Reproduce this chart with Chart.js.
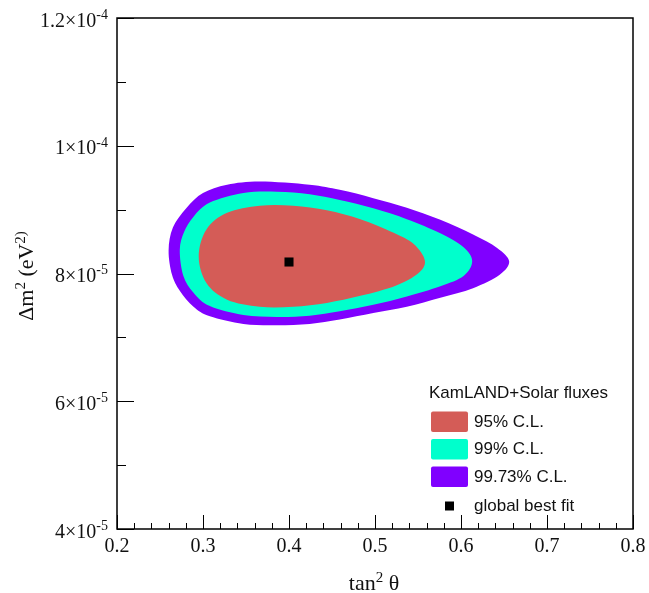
<!DOCTYPE html>
<html>
<head>
<meta charset="utf-8">
<script src="https://cdn.jsdelivr.net/npm/chart.js@4.4.0/dist/chart.umd.min.js"></script>
<style>
  html, body { margin: 0; padding: 0; background: #fff; }
</style>
</head>
<body>
<canvas id="clChart" width="649" height="593"></canvas>
<script>
var seriesNames = ['95% C.L.', '99% C.L.', '99.73% C.L.', 'global best fit'];
var seriesColors = ['#d45c57', '#00ffcc', '#8000ff', '#000000'];
var legendTitle = 'KamLAND+Solar fluxes';

// contour outlines: x = tan^2 theta, y = delta m^2 in units of 1e-5 eV^2
var cl95X = [0.558, 0.545, 0.521, 0.483, 0.444, 0.405, 0.366, 0.328, 0.304, 0.295, 0.304, 0.328, 0.366, 0.405, 0.444, 0.483, 0.524, 0.550];
var cl95Y = [8.20, 8.46, 8.64, 8.85, 8.99, 9.06, 9.06, 8.95, 8.69, 8.27, 7.85, 7.59, 7.48, 7.48, 7.54, 7.65, 7.81, 8.00];

var cl99X = [0.613, 0.603, 0.576, 0.537, 0.498, 0.459, 0.424, 0.386, 0.347, 0.308, 0.289, 0.278, 0.273, 0.277, 0.289, 0.308, 0.347, 0.386, 0.424, 0.459, 0.498, 0.537, 0.576, 0.603];
var cl99Y = [8.19, 8.41, 8.63, 8.85, 9.02, 9.15, 9.24, 9.28, 9.26, 9.11, 8.89, 8.65, 8.37, 7.97, 7.70, 7.49, 7.35, 7.32, 7.34, 7.41, 7.51, 7.64, 7.80, 7.96];

var cl9973X = [0.656, 0.642, 0.614, 0.576, 0.537, 0.498, 0.459, 0.424, 0.366, 0.328, 0.300, 0.281, 0.265, 0.260, 0.264, 0.273, 0.289, 0.308, 0.347, 0.386, 0.424, 0.459, 0.498, 0.537, 0.576, 0.614, 0.645];
var cl9973Y = [8.19, 8.40, 8.61, 8.84, 9.03, 9.18, 9.31, 9.39, 9.44, 9.39, 9.26, 9.03, 8.72, 8.36, 7.98, 7.73, 7.48, 7.33, 7.21, 7.19, 7.21, 7.28, 7.38, 7.48, 7.62, 7.77, 7.98];

var bestFitX = [0.400];
var bestFitY = [8.18];

var xTickValues = [0.2, 0.3, 0.4, 0.5, 0.6, 0.7, 0.8];
var xTickLabels = ['0.2', '0.3', '0.4', '0.5', '0.6', '0.7', '0.8'];
var yTickValues = [4, 6, 8, 10, 12];
var yTickLabels = ['4×10^-5', '6×10^-5', '8×10^-5', '1×10^-4', '1.2×10^-4'];

function toPoints(xs, ys) {
    return xs.map(function(x, i) { return {x: x, y: ys[i]}; });
}

function contourSet(label, xs, ys, color, order) {
    return {
        label: label,
        data: toPoints(xs, ys),
        showLine: false,
        pointRadius: 0,
        backgroundColor: color,
        borderColor: color,
        contour: true,
        order: order
    };
}

var serif = '"Liberation Serif", "DejaVu Serif", serif';
var sans = '"Liberation Sans", Arial, sans-serif';

// closed smooth outline through the points placed by the scales
var contourFill = {
    id: 'contourFill',
    afterDatasetDraw: function(chart, args) {
        var ds = chart.data.datasets[args.index];
        if (!ds.contour) return;
        var pts = args.meta.data.map(function(p) { return {x: p.x, y: p.y}; });
        var n = pts.length;
        var ctx = chart.ctx;
        ctx.save();
        ctx.beginPath();
        ctx.moveTo(pts[0].x, pts[0].y);
        for (var i = 0; i < n; i++) {
            var p0 = pts[(i - 1 + n) % n], p1 = pts[i], p2 = pts[(i + 1) % n], p3 = pts[(i + 2) % n];
            ctx.bezierCurveTo(
                p1.x + (p2.x - p0.x) / 6, p1.y + (p2.y - p0.y) / 6,
                p2.x - (p3.x - p1.x) / 6, p2.y - (p3.y - p1.y) / 6,
                p2.x, p2.y);
        }
        ctx.closePath();
        ctx.fillStyle = ds.backgroundColor;
        ctx.fill();
        ctx.restore();
    }
};

function drawPower(ctx, text, x, y, big, small, align) {
    // "8×10^-5": the part after ^ up to a space is a superscript
    var parts = [];
    var re = /\^(\S+)/g, last = 0, m;
    while ((m = re.exec(text)) !== null) {
        if (m.index > last) parts.push({t: text.slice(last, m.index), sup: false});
        parts.push({t: m[1], sup: true});
        last = re.lastIndex;
    }
    if (last < text.length) parts.push({t: text.slice(last), sup: false});
    var total = 0;
    parts.forEach(function(p) {
        ctx.font = (p.sup ? small : big) + 'px ' + serif;
        p.w = ctx.measureText(p.t).width;
        total += p.w;
    });
    var cx = align === 'right' ? x - total : (align === 'center' ? x - total / 2 : x);
    ctx.textAlign = 'left';
    ctx.textBaseline = 'alphabetic';
    parts.forEach(function(p) {
        ctx.font = (p.sup ? small : big) + 'px ' + serif;
        ctx.fillText(p.t, cx, p.sup ? y - big * 0.38 : y);
        cx += p.w;
    });
}

var frameAxes = {
    id: 'frameAxes',
    afterDraw: function(chart) {
        var ctx = chart.ctx;
        var a = chart.chartArea;
        var xs = chart.scales.x, ys = chart.scales.y;
        ctx.save();
        ctx.strokeStyle = '#000';
        ctx.fillStyle = '#000';
        ctx.lineWidth = 1.5;
        ctx.strokeRect(a.left, a.top, a.right - a.left, a.bottom - a.top);

        ctx.lineWidth = 1;
        ctx.beginPath();
        // x ticks: minor every 0.02, major every 0.1
        for (var i = 0; i <= 30; i++) {
            var px = Math.round(xs.getPixelForValue(0.2 + i * 0.02)) + 0.5;
            var len = (i % 5 === 0) ? 14 : 6;
            ctx.moveTo(px, a.bottom);
            ctx.lineTo(px, a.bottom - len);
        }
        // y ticks: minor every 1e-5, major every 2e-5
        for (var j = 0; j <= 8; j++) {
            var py = Math.round(ys.getPixelForValue(4 + j)) + 0.5;
            var ylen = (j % 2 === 0) ? 17 : 9;
            ctx.moveTo(a.left, py);
            ctx.lineTo(a.left + ylen, py);
        }
        ctx.stroke();

        ctx.fillStyle = '#111';
        xTickValues.forEach(function(v, k) {
            ctx.font = '20px ' + serif;
            ctx.textAlign = 'center';
            ctx.textBaseline = 'alphabetic';
            ctx.fillText(xTickLabels[k], xs.getPixelForValue(v), 552);
        });
        yTickValues.forEach(function(v, k) {
            drawPower(ctx, yTickLabels[k], 108, ys.getPixelForValue(v) + 8.5, 20, 14, 'right');
        });

        // axis titles
        drawPower(ctx, 'tan^2 θ', 374, 590, 22, 15, 'center');
        ctx.save();
        ctx.translate(33, 276);
        ctx.rotate(-Math.PI / 2);
        drawPower(ctx, 'Δm^2 (eV^2)', 0, 0, 22, 15, 'center');
        ctx.restore();

        // legend
        ctx.font = '17px ' + sans;
        ctx.textAlign = 'left';
        ctx.textBaseline = 'middle';
        ctx.fillText(legendTitle, 429, 393);
        for (var n = 0; n < 3; n++) {
            var top = 411.5 + n * 27.5;
            ctx.fillStyle = seriesColors[n];
            ctx.beginPath();
            if (ctx.roundRect) ctx.roundRect(431, top, 37, 20.5, 2);
            else ctx.rect(431, top, 37, 20.5);
            ctx.fill();
            ctx.fillStyle = '#111';
            ctx.fillText(seriesNames[n], 474, top + 10.5);
        }
        ctx.fillStyle = '#000';
        ctx.fillRect(445, 501.5, 9, 9);
        ctx.fillStyle = '#111';
        ctx.fillText(seriesNames[3], 474, 506);
        ctx.restore();
    }
};

var chart = new Chart(document.getElementById('clChart').getContext('2d'), {
    type: 'scatter',
    data: {
        datasets: [
            contourSet(seriesNames[0], cl95X, cl95Y, seriesColors[0], 2),
            contourSet(seriesNames[1], cl99X, cl99Y, seriesColors[1], 3),
            contourSet(seriesNames[2], cl9973X, cl9973Y, seriesColors[2], 4),
            {
                label: seriesNames[3],
                data: toPoints(bestFitX, bestFitY),
                pointStyle: 'rect',
                pointRadius: 6.4,
                pointBorderWidth: 0,
                backgroundColor: seriesColors[3],
                borderColor: seriesColors[3],
                order: 1
            }
        ]
    },
    options: {
        responsive: false,
        animation: false,
        devicePixelRatio: 1,
        layout: { padding: { left: 117, top: 18, right: 16, bottom: 64 } },
        plugins: {
            legend: { display: false },
            tooltip: { enabled: false }
        },
        scales: {
            x: { type: 'linear', min: 0.2, max: 0.8, display: false },
            y: { type: 'linear', min: 4, max: 12, display: false }
        }
    },
    plugins: [contourFill, frameAxes]
});
</script>
</body>
</html>
